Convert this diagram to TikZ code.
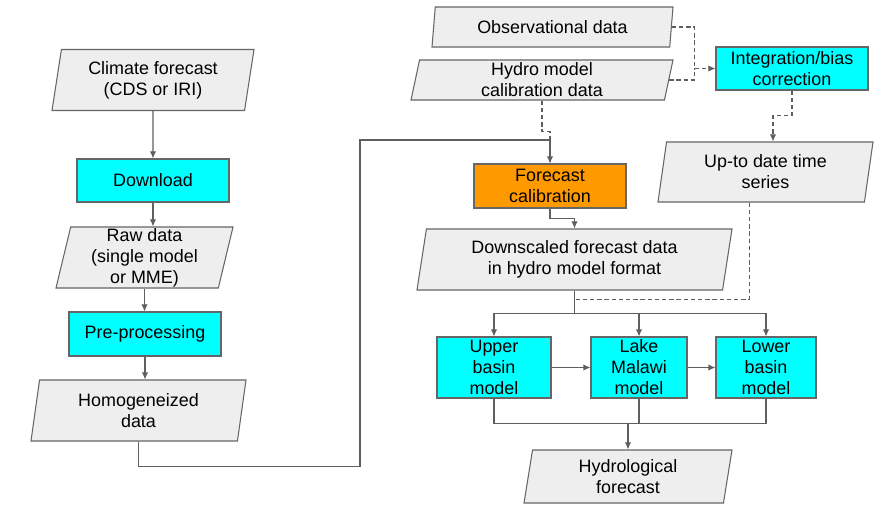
\documentclass[tikz,border=0pt]{standalone}
\usepackage{fontspec}
\setmainfont{Liberation Sans}
\usepackage{tikz}
\usetikzlibrary{arrows.meta,positioning,calc,shapes.geometric}
\definecolor{linegray}{HTML}{5F5F5F}
\definecolor{edgegray}{HTML}{666666}
\definecolor{datafill}{HTML}{EEEEEE}
\definecolor{stepcyan}{HTML}{00FFFF}
\definecolor{calorange}{HTML}{FF9900}
\newcommand{\flowfont}{\fontsize{10.2}{12}\selectfont}
\tikzset{
  procbox/.style 2 args={
    rectangle,draw=edgegray,fill=stepcyan,line width=.6pt,
    minimum width=#1*0.02cm,minimum height=#2*0.02cm,
    inner sep=0pt,align=center,font=\flowfont
  },
  databox/.style 2 args={
    trapezium,trapezium left angle=76,trapezium right angle=104,
    trapezium stretches body,draw=edgegray,fill=datafill,line width=.6pt,
    minimum width=#1*0.02cm,minimum height=#2*0.02cm,
    inner xsep=2pt,inner ysep=0pt,align=center,font=\flowfont
  },
  link/.style={draw=linegray,line width=.6pt},
  arrow/.style={link,-{Latex[length=4pt,width=3.6pt]}},
  dashlink/.style={link,dash pattern=on 2.5pt off 1.6pt},
  dasharrow/.style={dashlink,-{Latex[length=4pt,width=3.6pt]}}
}

\begin{document}
\begin{tikzpicture}[x=0.02cm,y=-0.02cm]
\useasboundingbox (0,0) rectangle (887,508);
% left column: forecast preparation
\node[databox={202}{61}] (clim) at (153,80) {Climate forecast\\(CDS or IRI)};
\node[procbox={152}{43}] (download) at (153,180.5) {Download};
\node[databox={177}{61}] (raw) at (144.5,257.5) {Raw data\\(single model\\or MME)};
\node[procbox={152}{44}] (preproc) at (145,334) {Pre-processing};
\node[databox={215}{61}] (homog) at (138.5,410.5) {Homogeneized\\data};
% right part: calibration and hydro models
\node[databox={241}{40}] (obs) at (552.5,27) {Observational data};
\node[databox={262}{40}] (hydrocal) at (542,80) {Hydro model\\calibration data};
\node[procbox={152}{43}] (integ) at (792,68.5) {Integration/bias\\correction};
\node[procbox={152}{44},fill=calorange] (calib) at (550,186) {Forecast\\calibration};
\node[databox={215}{60}] (uptodate) at (765.5,172) {Up-to date time\\series};
\node[databox={315}{61}] (down) at (574.5,259.5) {Downscaled forecast data\\in hydro model format};
\node[procbox={114}{61}] (upper) at (494,367.5) {Upper\\basin\\model};
\node[procbox={96}{61}] (lake) at (639,367.5) {Lake\\Malawi\\model};
\node[procbox={100}{61}] (lower) at (766,367.5) {Lower\\basin\\model};
\node[databox={208}{53}] (hydfc) at (628,476.5) {Hydrological\\forecast};
% helper points
\coordinate (join) at ($(integ.west)+(-21,0)$);
\coordinate (split) at ($(down.south)+(0,23)$);
\coordinate (gather) at ($(hydfc.north)+(0,-26)$);
% left column arrows
\draw[arrow] (clim.south) -- (download.north);
\draw[arrow] (download.south) -- (download.south |- raw.north);
\draw[arrow] (raw.south) -- (raw.south |- preproc.north);
\draw[arrow] (preproc.south) -- (preproc.south |- homog.north);
% dashed inputs
\draw[dashlink] (hydrocal.south) -- ++(0,31) -| (calib.north);
\draw[dashlink] (obs.east) -| (join);
\draw[dashlink] (hydrocal.east) -| (join);
\draw[dasharrow] (join) -- (integ.west);
\draw[dasharrow] (integ.south) -- ++(0,25) -| ($(uptodate.north)+(7.5,0)$);
\draw[dashlink] ($(uptodate.south)+(-16,0)$) |- ($(down.south)+(0,9)$);
% forecast path
\draw[arrow] (homog.south) -- ++(0,25) -| (360,140) -| (calib.north);
\draw[arrow] (calib.south) -- ++(0,10) -| (down.north);
\draw[link] (down.south) -- (split);
\draw[arrow] (split) -| (upper.north);
\draw[arrow] (split) -| (lake.north);
\draw[arrow] (split) -| (lower.north);
\draw[arrow] (upper.east) -- (lake.west);
\draw[arrow] (lake.east) -- (lower.west);
\draw[link] (upper.south) |- (gather);
\draw[link] (lower.south) |- (gather);
\draw[link] (lake.south) -- (lake.south |- gather);
\draw[arrow] (gather) -- (hydfc.north);
\end{tikzpicture}
\end{document}
